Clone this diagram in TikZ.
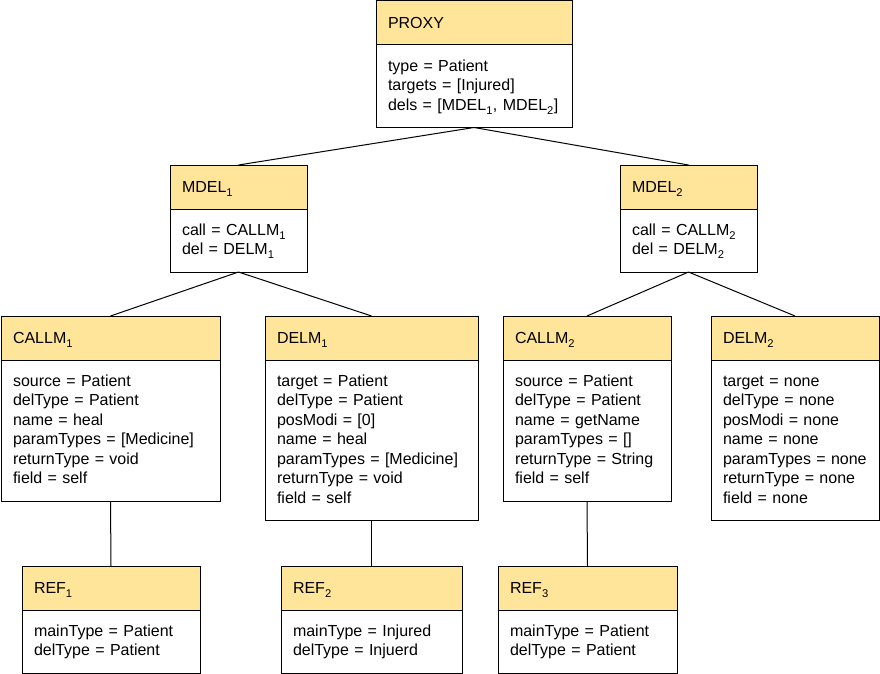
\documentclass[tikz,border=0pt]{standalone}
\usepackage{fontspec}
\setmainfont{Liberation Sans}
\definecolor{hdrfill}{HTML}{FFE599}
\newcommand\bodyfont{\fontsize{16pt}{19.5pt}\selectfont}
\newcommand\rw{\rule[-5.2pt]{0pt}{19.5pt}}
\newcommand\sbs[1]{\raisebox{-1.5pt}{\textsubscript{#1}}}
\tikzset{
  boxline/.style={draw=black, line width=1pt, outer sep=0pt},
  hdr/.style={boxline, fill=hdrfill, anchor=north west, inner xsep=12pt, inner ysep=0pt,
    minimum height=44pt, text height=15.5pt, text depth=4pt, align=left, font=\bodyfont},
  bdy/.style={boxline, fill=white, anchor=north west, inner xsep=12pt, inner ysep=12pt,
    align=left, font=\bodyfont},
  link/.style={draw=black, line width=1pt},
}
% name, x, y, width, title, body
\newcommand\ubox[6]{%
  \pgfmathsetmacro\tw{#4-24}%
  \node[hdr, text width=\tw pt] (#1h) at (#2,#3) {#5};
  \node[bdy, text width=\tw pt] (#1) at (#1h.south west) {#6};
}
\begin{document}
\begin{tikzpicture}[x=1pt,y=-1pt]
\useasboundingbox (0,0) rectangle (880,674);
\fill[white] (0,0) rectangle (880,674);

\ubox{proxy}{376}{1}{196}{PROXY}{\rw type = Patient\\\rw targets = [Injured]\\\rw dels = [MDEL\sbs{1}, MDEL\sbs{2}]}

\ubox{mdela}{170}{165}{137}{MDEL\sbs{1}}{\rw call = CALLM\sbs{1}\\\rw del = DELM\sbs{1}}
\ubox{mdelb}{620}{165}{137}{MDEL\sbs{2}}{\rw call = CALLM\sbs{2}\\\rw del = DELM\sbs{2}}

\ubox{callma}{1}{316}{219}{CALLM\sbs{1}}{\rw source = Patient\\\rw delType = Patient\\\rw name = heal\\\rw paramTypes = [Medicine]\\\rw returnType = void\\\rw field = self}
\ubox{delma}{265}{316}{213}{DELM\sbs{1}}{\rw target = Patient\\\rw delType = Patient\\\rw posModi = [0]\\\rw name = heal\\\rw paramTypes = [Medicine]\\\rw returnType = void\\\rw field = self}
\ubox{callmb}{503}{316}{168}{CALLM\sbs{2}}{\rw source = Patient\\\rw delType = Patient\\\rw name = getName\\\rw paramTypes = []\\\rw returnType = String\\\rw field = self}
\ubox{delmb}{711}{316}{168}{DELM\sbs{2}}{\rw target = none\\\rw delType = none\\\rw posModi = none\\\rw name = none\\\rw paramTypes = none\\\rw returnType = none\\\rw field = none}

\ubox{refa}{22}{566}{178}{REF\sbs{1}}{\rw mainType = Patient\\\rw delType = Patient}
\ubox{refb}{281}{566}{181}{REF\sbs{2}}{\rw mainType = Injured\\\rw delType = Injuerd}
\ubox{refc}{498}{566}{179}{REF\sbs{3}}{\rw mainType = Patient\\\rw delType = Patient}

\draw[link] (proxy.south) -- (mdelah.north);
\draw[link] (proxy.south) -- (mdelbh.north);
\draw[link] (mdela.south) -- (callmah.north);
\draw[link] (mdela.south) -- (delmah.north);
\draw[link] (mdelb.south) -- (callmbh.north);
\draw[link] (mdelb.south) -- (delmbh.north);
\draw[link] (callma.south) -- (refah.north);
\draw[link] (delma.south) -- (refbh.north);
\draw[link] (callmb.south) -- (refch.north);
\end{tikzpicture}
\end{document}
